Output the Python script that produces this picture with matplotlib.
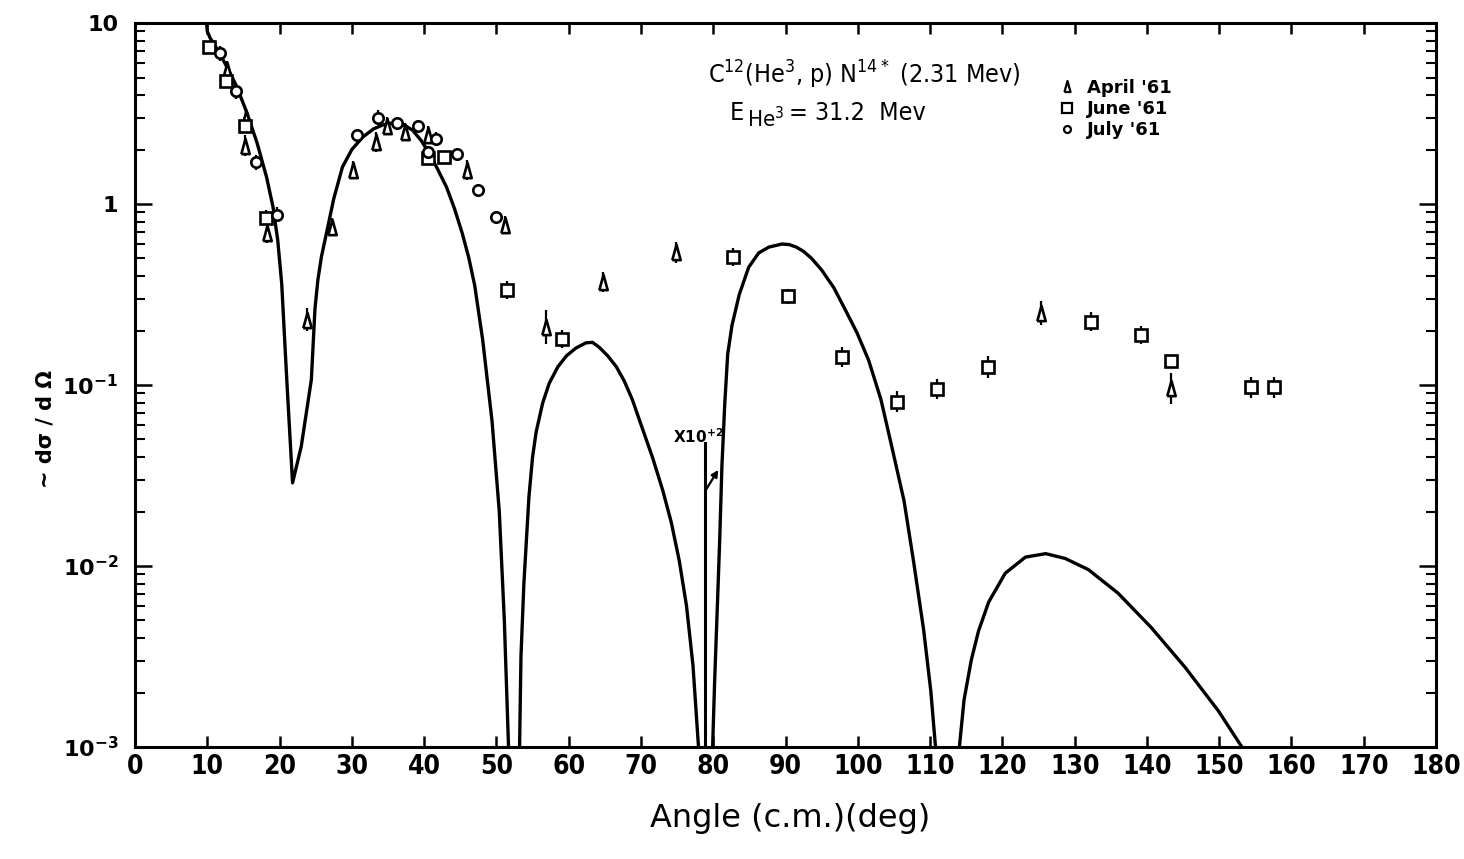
import numpy as np
import matplotlib
matplotlib.use("Agg")
import matplotlib.pyplot as plt
from matplotlib import font_manager
from matplotlib.lines import Line2D
from matplotlib.ticker import FixedLocator, NullFormatter

plt.rcParams["font.family"] = ["DejaVu Sans"]
plt.rcParams["mathtext.default"] = "regular"

_installed = {f.name for f in font_manager.fontManager.ttflist}
NARROW = "Liberation Sans Narrow" if "Liberation Sans Narrow" in _installed else None

# ---- theoretical curve (lobes 4 and 5 are shown multiplied by 10^2) ----
lobe1_deg = [9.9, 10.0, 10.4, 11.3, 12.2, 13.2, 14.1, 15.5, 16.9, 18.2, 19.1, 19.75,
             20.3, 21.0, 21.8, 23.0, 24.4, 24.9, 25.3, 25.8, 26.5, 27.5, 28.7, 30.0,
             31.5, 33.0, 34.25, 35.3, 36.2, 37.3, 38.4, 39.6, 40.7, 41.9, 43.1, 44.2,
             45.3, 46.2, 47.0, 48.1, 49.4, 50.4, 51.1, 51.7]
lobe1_val = [10.0, 9.0, 8.26, 7.24, 6.25, 5.25, 4.43, 3.18, 2.17, 1.41, 0.962, 0.631,
             0.363, 0.107, 0.0288, 0.0457, 0.107, 0.263, 0.380, 0.513, 0.692, 1.07, 1.60,
             2.0, 2.34, 2.60, 2.73, 2.79, 2.80, 2.72, 2.56, 2.24, 1.91, 1.55, 1.24, 0.944,
             0.684, 0.501, 0.355, 0.178, 0.0631, 0.0200, 0.0050, 0.00095]

lobe3_deg = [53.2, 53.4, 53.8, 54.5, 55.0, 55.5, 56.4, 57.3, 58.5, 59.7, 61.0, 62.4,
             63.3, 64.2, 65.4, 66.6, 67.7, 68.8, 70.2, 71.6, 73.0, 74.2, 75.3, 76.3,
             77.2, 78.0]
lobe3_val = [0.00095, 0.00316, 0.00794, 0.0240, 0.0398, 0.0550, 0.0794, 0.102, 0.126,
             0.145, 0.160, 0.171, 0.172, 0.162, 0.145, 0.126, 0.105, 0.0832, 0.0575,
             0.0398, 0.0263, 0.0174, 0.0107, 0.00603, 0.00282, 0.00095]

lobe4_deg = [79.9, 80.2, 80.6, 80.9, 81.2, 81.6, 82.0, 82.6, 83.6, 84.9, 86.3, 87.7,
             89.5, 90.5, 91.5, 92.5, 93.6, 95.0, 96.7, 98.3, 99.9, 101.5, 103.2, 104.7,
             106.4, 107.7, 109.1, 110.1, 110.8]
lobe4_val = [0.00095, 0.00234, 0.00646, 0.0141, 0.0355, 0.0794, 0.148, 0.214, 0.316,
             0.447, 0.537, 0.578, 0.601, 0.597, 0.578, 0.547, 0.501, 0.432, 0.344, 0.259,
             0.194, 0.137, 0.0832, 0.0457, 0.0229, 0.0107, 0.00447, 0.00204, 0.00095]

lobe5_deg = [114.0, 114.7, 115.7, 116.7, 118.1, 120.4, 123.2, 126.0, 128.7, 131.9,
             136.0, 140.6, 145.3, 149.9, 153.5]
lobe5_val = [0.00095, 0.00182, 0.00302, 0.00437, 0.00631, 0.00912, 0.0112, 0.0117,
             0.0110, 0.00955, 0.00708, 0.00457, 0.00275, 0.00158, 0.00095]

# ---- measured points ----
april_deg = [12.7, 15.3, 15.2, 18.2, 23.8, 27.2, 30.1, 33.3, 34.9, 37.4, 40.5, 46.0,
             51.2, 56.8, 64.8, 74.9, 125.3, 143.4]
april_val = [5.5, 3.0, 2.1, 0.69, 0.23, 0.75, 1.54, 2.2, 2.7, 2.5, 2.4, 1.54,
             0.77, 0.21, 0.37, 0.54, 0.25, 0.096]
april_err = [0.12, 0.12, 0.14, 0.14, 0.16, 0.12, 0.12, 0.14, 0.12, 0.12, 0.12, 0.14,
             0.12, 0.24, 0.14, 0.14, 0.16, 0.22]

june_deg = [10.2, 12.6, 15.2, 18.1, 40.6, 42.8, 51.5, 59.1, 82.7, 90.3, 97.8, 105.4,
            110.9, 118.0, 132.3, 139.2, 143.4, 154.4, 157.6]
june_val = [7.4, 4.8, 2.7, 0.84, 1.8, 1.82, 0.335, 0.18, 0.51, 0.31, 0.143, 0.081,
            0.095, 0.126, 0.224, 0.189, 0.136, 0.097, 0.097]
june_err = [0.08, 0.10, 0.10, 0.10, 0.10, 0.08, 0.12, 0.12, 0.12, 0.10, 0.14, 0.14,
            0.13, 0.15, 0.13, 0.12, 0.0, 0.14, 0.14]

july_deg = [11.7, 14.0, 16.7, 19.6, 30.7, 33.6, 36.3, 39.2, 40.6, 41.7, 44.5, 47.4, 50.0]
july_val = [6.8, 4.2, 1.7, 0.87, 2.4, 3.0, 2.8, 2.7, 1.94, 2.3, 1.9, 1.19, 0.85]
july_err = [0.10, 0.10, 0.10, 0.10, 0.08, 0.10, 0.08, 0.08, 0.08, 0.08, 0.08, 0.08, 0.08]

x_ticks = list(range(0, 181, 10))
y_ticks = [1e-3, 1e-2, 1e-1, 1, 10]
y_labels = ["10$^{-3}$", "10$^{-2}$", "10$^{-1}$", "1", "10"]

fig = plt.figure(figsize=(14.64, 8.59), dpi=100)
ax = fig.add_axes([0.0922, 0.1304, 0.8887, 0.8428])
ax.set_yscale("log")
ax.set_xlim(0, 180)
ax.set_ylim(1e-3, 10)

for d, v in [(lobe1_deg, lobe1_val), (lobe3_deg, lobe3_val),
             (lobe4_deg, lobe4_val), (lobe5_deg, lobe5_val)]:
    ax.plot(d, v, color="black", lw=2.4, solid_joinstyle="round", zorder=2)

tri = [(-0.55, -1.0), (0.55, -1.0), (0.0, 1.0), (-0.55, -1.0)]

def series(deg, val, err, marker, ms):
    deg = np.asarray(deg)
    val = np.asarray(val)
    err = np.asarray(err)
    lo = val - val / (1 + err)
    hi = val * err
    ax.errorbar(deg, val, yerr=[lo, hi], fmt="none", ecolor="black",
                elinewidth=1.6, capsize=0, zorder=3)
    ax.plot(deg, val, linestyle="none", marker=marker, ms=ms, mfc="white",
            mec="black", mew=1.9, zorder=4)

series(april_deg, april_val, april_err, tri, 11)
series(june_deg, june_val, june_err, "s", 8.5)
series(july_deg, july_val, july_err, "o", 7.5)

# marker for the x10^2 scaling of the curve beyond 80 deg
ax.plot([78.9, 78.9], [0.0009, 0.048], color="black", lw=2.2, zorder=2)
ax.annotate("", xy=(80.7, 0.034), xytext=(78.9, 0.026),
            arrowprops=dict(arrowstyle="-|>", color="black", lw=1.6,
                            mutation_scale=10, shrinkA=0, shrinkB=0))
ax.text(74.4, 0.048, "X10$^{+2}$", ha="left", va="baseline",
        fontsize=11, fontweight="bold")

# axes styling
for s in ax.spines.values():
    s.set_linewidth(2.2)
ax.xaxis.set_major_locator(FixedLocator(x_ticks))
ax.set_xticklabels([str(t) for t in x_ticks])
ax.yaxis.set_major_locator(FixedLocator(y_ticks))
ax.set_yticklabels(y_labels)
minor = [m * 10.0 ** e for e in range(-3, 1) for m in range(2, 10)]
ax.yaxis.set_minor_locator(FixedLocator(minor))
ax.yaxis.set_minor_formatter(NullFormatter())
ax.tick_params(axis="both", which="both", direction="in", top=True, right=True)
ax.tick_params(axis="x", which="major", length=8, width=1.8, pad=5)
ax.tick_params(axis="y", which="major", length=12, width=1.8, pad=12)
ax.tick_params(axis="y", which="minor", length=7, width=1.5)
for lab in ax.get_xticklabels():
    if NARROW:
        lab.set_family([NARROW, "DejaVu Sans"])
        lab.set_fontsize(25)
    else:
        lab.set_fontsize(19)
        lab.set_fontstretch("condensed")
    lab.set_fontweight("bold")
for lab in ax.get_yticklabels():
    lab.set_fontsize(16)
    lab.set_fontweight("bold")

# annotations
ax.text(0.4404, 0.917, "C$^{12}$(He$^{3}$, p) N$^{14*}$ (2.31 Mev)",
        transform=ax.transAxes, ha="left", va="baseline", fontsize=18,
        fontstretch="condensed")
ax.text(0.457, 0.866, "E", transform=ax.transAxes, ha="left", va="baseline",
        fontsize=18, fontstretch="condensed")
ax.text(0.4705, 0.8565, "He$^{3}$", transform=ax.transAxes, ha="left",
        va="baseline", fontsize=16, fontstretch="condensed")
ax.text(0.5025, 0.866, "= 31.2  Mev", transform=ax.transAxes, ha="left",
        va="baseline", fontsize=18, fontstretch="condensed")

handles = [
    Line2D([], [], ls="none", marker=tri, ms=8, mfc="white", mec="black", mew=1.6),
    Line2D([], [], ls="none", marker="s", ms=6.5, mfc="white", mec="black", mew=1.6),
    Line2D([], [], ls="none", marker="o", ms=5, mfc="white", mec="black", mew=1.6),
]
ax.legend(handles, ["April '61", "June '61", "July '61"], loc="upper left",
          bbox_to_anchor=(0.705, 0.933), frameon=False, handlelength=0.8,
          handletextpad=0.7, labelspacing=0.18, borderaxespad=0,
          prop=dict(size=13, weight="bold"))

fig.text(0.031, 0.50, "~ d\u03c3 / d \u03a9", rotation=90, ha="center", va="center",
         fontsize=15, fontweight="bold")
if NARROW:
    fig.text(0.5396, 0.0477, "Angle (c.m.)(deg)", ha="center", va="center",
             fontsize=28, family=[NARROW, "DejaVu Sans"])
else:
    fig.text(0.5396, 0.0477, "Angle (c.m.)(deg)", ha="center", va="center",
             fontsize=23)

fig.savefig("out.png", dpi=100, facecolor="white")
